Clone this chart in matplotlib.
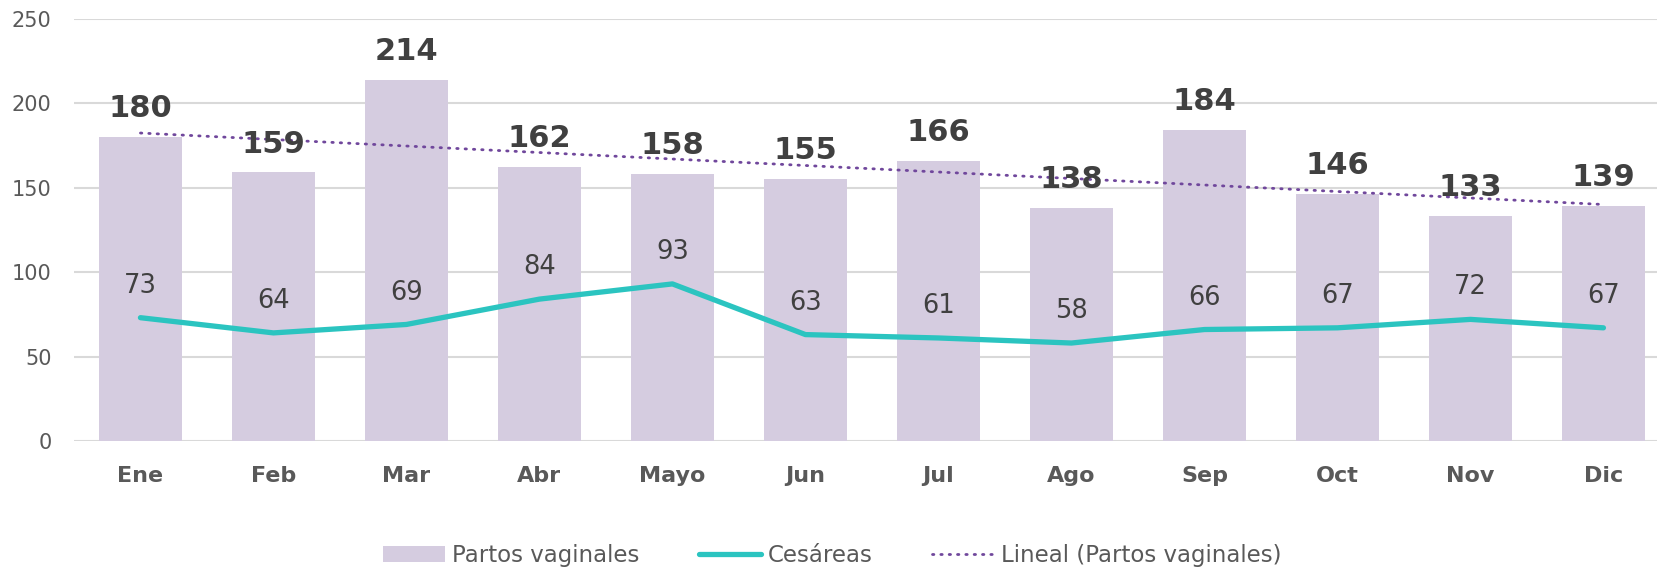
import numpy as np
import matplotlib
matplotlib.use('Agg')
import matplotlib.pyplot as plt

# Data
months = ['Ene', 'Feb', 'Mar', 'Abr', 'Mayo', 'Jun', 'Jul', 'Ago', 'Sep', 'Oct', 'Nov', 'Dic']
vaginales = [180, 159, 214, 162, 158, 155, 166, 138, 184, 146, 133, 139]
cesareas = [73, 64, 69, 84, 93, 63, 61, 58, 66, 67, 72, 67]

plt.rcParams['font.family'] = ['DejaVu Sans']

fig = plt.figure(figsize=(16.58, 5.70), dpi=100)
ax = fig.add_axes([0.0446, 0.2263, 0.9626, 0.7409])

x = np.arange(len(months))

# Bars
bars = ax.bar(x, vaginales, width=0.625, color='#D5CCE0', label='Partos vaginales', zorder=2)

# Cesareas line
ces_line, = ax.plot(x, cesareas, color='#2BC4C0', linewidth=3.8, solid_capstyle='round',
                    label='Cesáreas', zorder=3)

# Linear trend of the bars
slope, intercept = np.polyfit(x, vaginales, 1)
trend, = ax.plot(x, intercept + slope * x, color='#70479C', linewidth=2,
                 linestyle=(0, (0.5, 2.5)), dash_capstyle='round',
                 label='Lineal (Partos vaginales)', zorder=4)

# Labels
for xi, v in zip(x, vaginales):
    ax.annotate(str(v), (xi, v), xytext=(0, 10), textcoords='offset points',
                ha='center', va='bottom', fontsize=22, fontweight='bold',
                color='#404040', zorder=5)
for xi, v in zip(x, cesareas):
    ax.annotate(str(v), (xi, v), xytext=(0, 23), textcoords='offset points',
                ha='center', va='center', fontsize=18.5, color='#404040', zorder=5)

# Axes styling
ax.set_xlim(-0.5, len(months) - 0.5)
ax.set_ylim(0, 250)
ax.set_yticks([0, 50, 100, 150, 200, 250])
ax.set_xticks(x)
ax.set_xticklabels(months, fontsize=16, fontweight='bold', color='#595959')
ax.tick_params(axis='y', length=0, labelsize=15, labelcolor='#595959', pad=16)
ax.tick_params(axis='x', length=0, pad=18)
ax.grid(axis='y', color='#D9D9D9', linewidth=1.5, zorder=0)
ax.set_axisbelow(True)
for s in ax.spines.values():
    s.set_visible(False)

leg = fig.legend([bars, ces_line, trend],
                 ['Partos vaginales', 'Cesáreas', 'Lineal (Partos vaginales)'],
                 loc='center', bbox_to_anchor=(0.502, 0.026), ncol=3, frameon=False,
                 fontsize=16.5, handlelength=2.7, columnspacing=2.6, handletextpad=0.3)
for t in leg.get_texts():
    t.set_color('#595959')

fig.savefig('out.png', dpi=100)
